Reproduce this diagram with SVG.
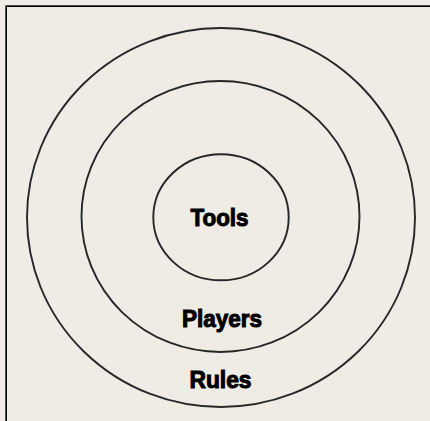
<svg xmlns="http://www.w3.org/2000/svg" width="430" height="421" viewBox="0 0 430 421">
<style>
.ring{fill:none;stroke:#262626;stroke-width:1.9}
.lbl{font-family:"Liberation Sans",Arial,sans-serif;font-weight:bold;font-size:23px;fill:#000;stroke:#000;stroke-width:1;text-anchor:middle}
</style>
<rect x="0" y="0" width="430" height="421" fill="#EFECE5"/>
<path d="M5.5 421 V5.5 H430" fill="none" stroke="#4a4a4a" stroke-width="1"/>
<path d="M6.5 421 V6.5 H430" fill="none" stroke="#000" stroke-width="1"/>
<g id="rules">
<ellipse class="ring" cx="221" cy="217.5" rx="194" ry="189.5"/>
<text class="lbl" x="220.5" y="388" textLength="62" lengthAdjust="spacingAndGlyphs">Rules</text>
</g>
<g id="players">
<ellipse class="ring" cx="220.5" cy="216.5" rx="139" ry="135.5"/>
<text class="lbl" x="222" y="327" textLength="80" lengthAdjust="spacingAndGlyphs">Players</text>
</g>
<g id="tools">
<ellipse class="ring" cx="221" cy="217.3" rx="67.7" ry="63"/>
<text class="lbl" x="219.5" y="225.5" textLength="58" lengthAdjust="spacingAndGlyphs">Tools</text>
</g>
<g id="connectors"/>
</svg>
